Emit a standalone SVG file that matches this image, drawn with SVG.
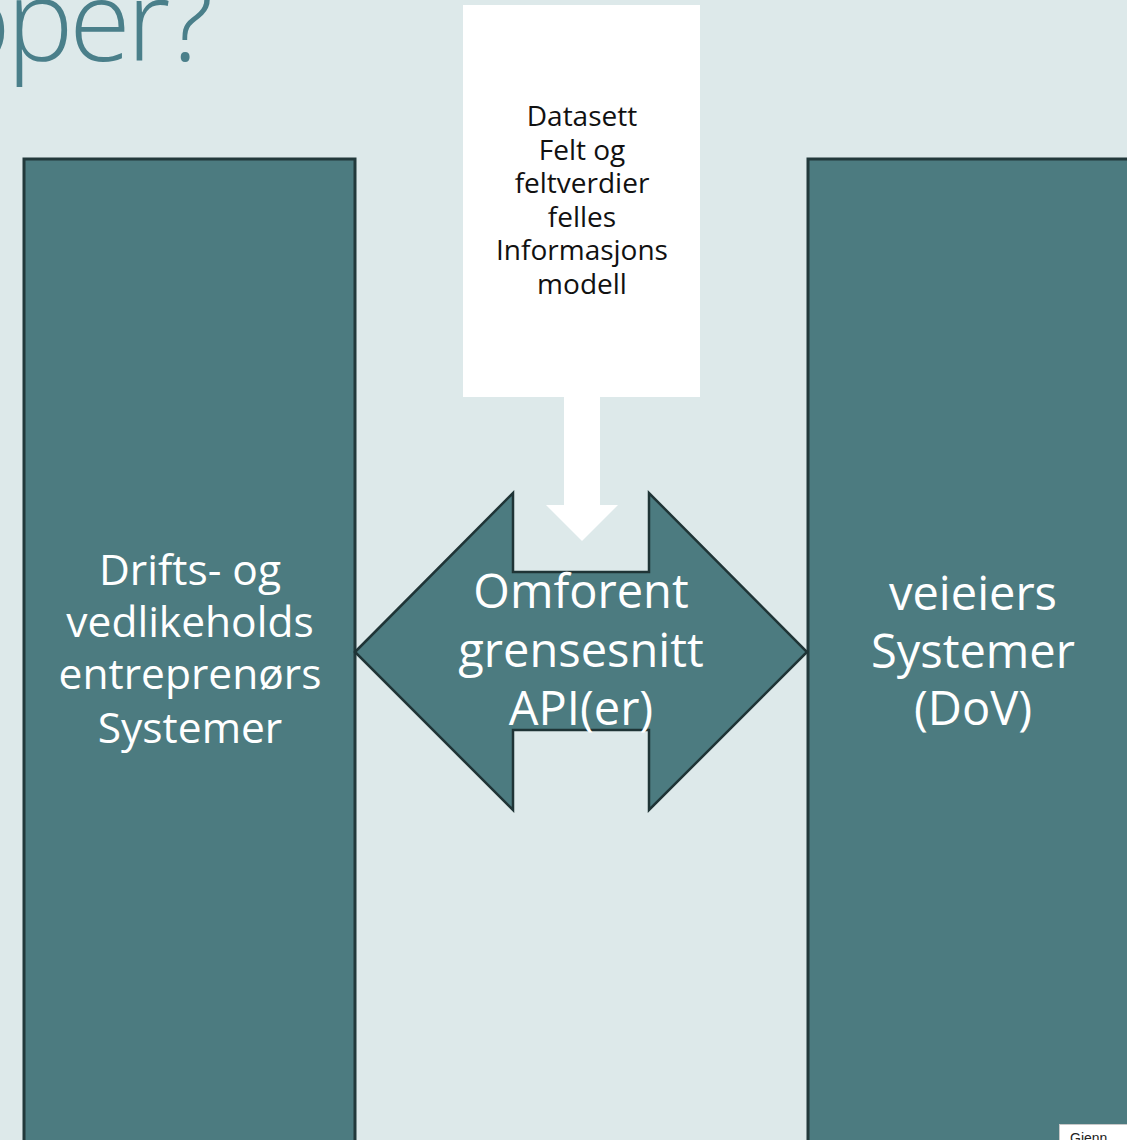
<svg xmlns="http://www.w3.org/2000/svg" width="1127" height="1140" viewBox="0 0 1127 1140">
<style>
.bg{fill:#dde9ea}
.sys{fill:#4c7b80;stroke:#22393b;stroke-width:3}
.arr{fill:#4c7b80;stroke:#1f3436;stroke-width:2.5;stroke-linejoin:miter}
.wt{fill:#ffffff;font-family:"Open Sans","Noto Sans",sans-serif;text-anchor:middle}
.bt{fill:#111111;font-family:"Open Sans","Noto Sans",sans-serif;font-size:28px;text-anchor:middle}
.title{fill:#4a7f8a;font-family:"Open Sans","Noto Sans",sans-serif;font-weight:300;font-size:112px;letter-spacing:-4px}
</style>
<rect class="bg" x="0" y="0" width="1127" height="1140"/>
<text class="title" x="-55" y="61">oper?</text>

<g id="left-system">
<rect class="sys" x="24" y="159" width="331" height="1000"/>
<text class="wt" font-size="42.5" x="190"><tspan x="190" y="585">Drifts- og</tspan><tspan x="190" y="637">vedlikeholds</tspan><tspan x="190" y="689">entreprenørs</tspan><tspan x="190" y="743">Systemer</tspan></text>
</g>

<g id="right-system">
<rect class="sys" x="808" y="159" width="340" height="1000"/>
<text class="wt" font-size="47" x="973"><tspan x="973" y="610">veieiers</tspan><tspan x="973" y="668">Systemer</tspan><tspan x="973" y="725">(DoV)</tspan></text>
</g>

<g id="info-model">
<rect x="463" y="5" width="237" height="392" fill="#ffffff"/>
<text class="bt"><tspan x="582" y="126">Datasett</tspan><tspan x="582" y="160">Felt og</tspan><tspan x="582" y="193">feltverdier</tspan><tspan x="582" y="227">felles</tspan><tspan x="582" y="260">Informasjons</tspan><tspan x="582" y="294">modell</tspan></text>
</g>

<g id="connectors">
<polygon fill="#ffffff" points="564,396 600,396 600,505 618,505 582,541 546,505 564,505"/>
</g>

<g id="interface">
<polygon class="arr" points="355,652 513,493 513,572 649,572 649,493 807,652 649,810 649,730 513,730 513,810"/>
<text class="wt" font-size="47" x="581"><tspan x="581" y="608">Omforent</tspan><tspan x="581" y="667">grensesnitt</tspan><tspan x="581" y="725">API(er)</tspan></text>
</g>

<g id="footer-label">
<rect x="1059.5" y="1124.5" width="80" height="30" fill="#ffffff" stroke="#c8c8c8" stroke-width="1"/>
<text x="1070" y="1143" font-family="'Liberation Sans',Arial,sans-serif" font-size="14" fill="#222222">Gjenn</text>
</g>
</svg>
